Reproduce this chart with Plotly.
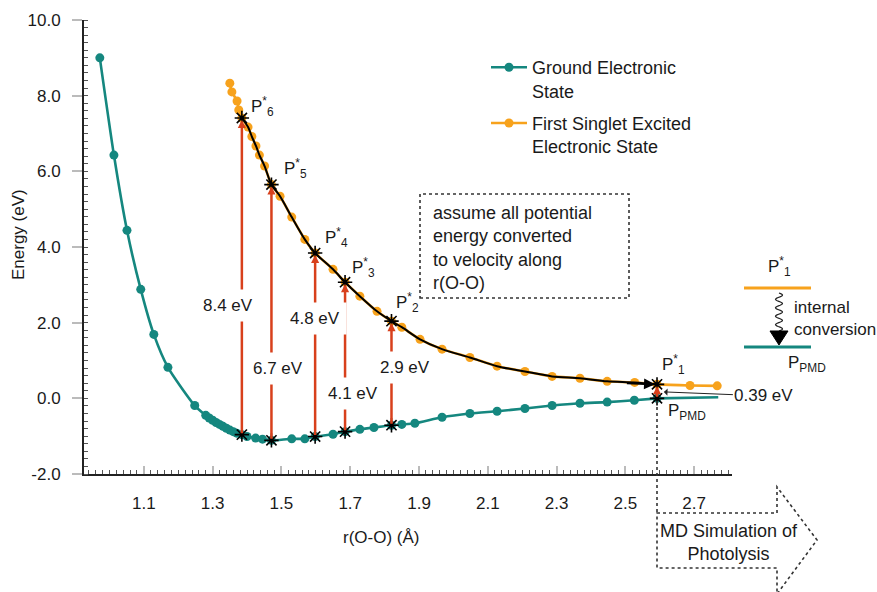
import plotly.graph_objects as go
import numpy as np

# ---------------- data ----------------
ground_r = [0.972, 1.013, 1.051, 1.091, 1.129, 1.170, 1.248, 1.280, 1.290, 1.300, 1.310,
            1.320, 1.330, 1.340, 1.350, 1.360, 1.370, 1.385, 1.400, 1.425, 1.445, 1.471,
            1.530, 1.568, 1.598, 1.650, 1.685, 1.728, 1.769, 1.820, 1.850, 1.888, 1.967,
            2.048, 2.127, 2.208, 2.287, 2.368, 2.447, 2.526, 2.592, 2.770]
ground_e = [9.00, 6.43, 4.44, 2.88, 1.69, 0.82, -0.19, -0.45, -0.52, -0.58, -0.64,
            -0.69, -0.74, -0.79, -0.84, -0.88, -0.92, -0.96, -1.01, -1.05, -1.08, -1.11,
            -1.07, -1.07, -1.01, -0.95, -0.88, -0.82, -0.77, -0.71, -0.69, -0.66, -0.50,
            -0.40, -0.34, -0.27, -0.19, -0.13, -0.10, -0.05, 0.00, 0.03]

excited_r = [1.350, 1.356, 1.371, 1.376, 1.385, 1.403, 1.414, 1.426, 1.436, 1.451, 1.471,
             1.496, 1.530, 1.568, 1.598, 1.650, 1.685, 1.728, 1.778, 1.820, 1.850, 1.903,
             1.967, 2.048, 2.127, 2.208, 2.287, 2.368, 2.447, 2.527, 2.592, 2.688, 2.767]
excited_e = [8.33, 8.10, 7.86, 7.62, 7.41, 7.17, 6.92, 6.67, 6.43, 6.14, 5.65,
             5.34, 4.79, 4.20, 3.84, 3.41, 3.07, 2.70, 2.30, 2.04, 1.88, 1.56,
             1.30, 1.08, 0.85, 0.71, 0.58, 0.53, 0.45, 0.42, 0.37, 0.34, 0.33]

# excitation points P*6 ... P*1
point_names = ["P<sup>*</sup><sub>6</sub>", "P<sup>*</sup><sub>5</sub>", "P<sup>*</sup><sub>4</sub>",
               "P<sup>*</sup><sub>3</sub>", "P<sup>*</sup><sub>2</sub>", "P<sup>*</sup><sub>1</sub>"]
point_r = [1.385, 1.471, 1.598, 1.685, 1.820, 2.592]
point_ground = [-0.96, -1.11, -1.01, -0.88, -0.71, 0.00]
point_excited = [7.41, 5.65, 3.84, 3.07, 2.04, 0.37]
gap_labels = ["8.4 eV", "6.7 eV", "4.8 eV", "4.1 eV", "2.9 eV", "0.39 eV"]

x_ticks = [1.1, 1.3, 1.5, 1.7, 1.9, 2.1, 2.3, 2.5, 2.7]
y_ticks = [-2.0, 0.0, 2.0, 4.0, 6.0, 8.0, 10.0]

# right-side schematic (diagram coordinates, beyond the axis range)
schem_r = 2.947
schem_excited = 2.94
schem_ground = 1.38

# ---------------- styles ----------------
TEAL = "#15877f"
ORANGE = "#f7a21c"
RED = "#d8401c"
FONT = "Liberation Sans, Arial, sans-serif"
TXT = "#1a1a1a"
FS = 17
FS2 = 18

W, H = 877, 592
L, R, T, B = 84, 145, 20, 118
PW, PH = W - L - R, H - T - B


def px(x):
    return (x - L) / PW


def py(y):
    return (H - B - y) / PH


def text_ann(xp, yp, text, xanchor="center", size=FS, **kw):
    d = dict(x=px(xp), y=py(yp), xref="paper", yref="paper", text=text,
             showarrow=False, xanchor=xanchor, yanchor="middle",
             font=dict(size=size, color=TXT, family=FONT))
    d.update(kw)
    return d


fig = go.Figure()

# ground state
fig.add_trace(go.Scatter(
    x=ground_r[:-1], y=ground_e[:-1], mode="lines+markers",
    name="Ground Electronic<br>State", legendgroup="ground",
    line=dict(color=TEAL, width=2.6, shape="spline", smoothing=0.6),
    marker=dict(color=TEAL, size=9), cliponaxis=False))
fig.add_trace(go.Scatter(
    x=ground_r[-2:], y=ground_e[-2:], mode="lines", showlegend=False,
    legendgroup="ground", line=dict(color=TEAL, width=2.6), hoverinfo="skip"))

# excited state
fig.add_trace(go.Scatter(
    x=excited_r, y=excited_e, mode="lines+markers",
    name="First Singlet Excited<br>Electronic State", legendgroup="excited",
    line=dict(color=ORANGE, width=2.6, shape="spline", smoothing=0.6),
    marker=dict(color=ORANGE, size=9), cliponaxis=False))

# black trajectory curve P*6 -> P*1
sel = [i for i, r in enumerate(excited_r) if point_r[0] <= r <= point_r[-1]]
fig.add_trace(go.Scatter(
    x=[excited_r[i] for i in sel], y=[excited_e[i] for i in sel], mode="lines",
    showlegend=False, legendgroup="excited",
    line=dict(color="black", width=2, shape="spline", smoothing=0.8),
    hoverinfo="skip"))

# stars
fig.add_trace(go.Scatter(
    x=point_r + point_r + [schem_r, schem_r],
    y=point_ground + point_excited + [schem_excited, schem_ground],
    mode="markers", showlegend=False, legendgroup="excited", cliponaxis=False,
    marker=dict(symbol="asterisk-open", size=12, color="black",
                line=dict(width=1.6, color="black")),
    hoverinfo="skip"))

ann = []
# red excitation arrows
for r, g, e in zip(point_r, point_ground, point_excited):
    ann.append(dict(x=r, y=e - 0.05, ax=r, ay=g, xref="x", yref="y", axref="x", ayref="y",
                    showarrow=True, arrowhead=2, arrowsize=0.65, arrowwidth=2.5,
                    arrowcolor=RED, text="", standoff=0))

# black arrowhead on trajectory at P*1
ann.append(dict(x=point_r[-1], y=point_excited[-1], ax=2.50, ay=0.40, xref="x", yref="y",
                axref="x", ayref="y", showarrow=True, arrowhead=2, arrowsize=1.1,
                arrowwidth=2, arrowcolor="black", text="", standoff=2))

# gap labels with white background
gap_pos = [(228, 305), (278, 368), (315, 318), (353, 393), (405, 367)]
for lab, (xp, yp) in zip(gap_labels[:5], gap_pos):
    ann.append(text_ann(xp, yp, lab, bgcolor="white", borderpad=6))

# 0.39 eV label with thin arrow
ann.append(dict(x=point_r[-1] + 0.02, y=0.17, xref="x", yref="y", text=gap_labels[5],
                showarrow=True, ax=100, ay=4, arrowhead=1, arrowsize=1.2, arrowwidth=1,
                arrowcolor="#222", font=dict(size=FS, color=TXT, family=FONT)))

# point labels
shifts = [(7, 11), (11, 16), (8, 16), (5, 15), (3, 19), (3, 20)]
for name, r, e, (dx, dy) in zip(point_names, point_r, point_excited, shifts):
    ann.append(dict(x=r, y=e, xref="x", yref="y", text=name, showarrow=False,
                    xanchor="left", yanchor="middle", xshift=dx, yshift=dy,
                    font=dict(size=FS, color=TXT, family=FONT)))
ann.append(dict(x=point_r[-1], y=point_ground[-1], xref="x", yref="y",
                text="P<sub>PMD</sub>", showarrow=False, xanchor="left", yanchor="middle",
                xshift=9, yshift=-14, font=dict(size=FS, color=TXT, family=FONT)))

# axis titles
ann.append(text_ann(18, 235, "Energy (eV)", textangle=-90))
ann.append(text_ann(381, 537, "r(O-O) (Å)"))

# dotted box text
ann.append(text_ann(431, 248, "assume all potential<br>energy converted<br>to velocity along<br>r(O-O)",
                    xanchor="left", size=FS2, align="left"))

# MD arrow text
ann.append(text_ann(729, 542, "MD Simulation of<br>Photolysis", size=FS2, align="center"))

# schematic text
ann.append(text_ann(779, 266, "P<sup>*</sup><sub>1</sub>"))
ann.append(text_ann(792, 318, "internal<br>conversion", xanchor="left", align="left"))
ann.append(text_ann(786, 364, "P<sub>PMD</sub>", xanchor="left"))

shapes = []
dot = dict(color="#333", width=1.6, dash="dot")
# dotted text box
shapes.append(dict(type="rect", xref="paper", yref="paper", x0=px(420), x1=px(629),
                   y0=py(298), y1=py(194), line=dot))
# vertical dotted line from P_PMD and MD arrow outline
shapes.append(dict(type="line", xref="paper", yref="paper", x0=px(657), x1=px(657),
                   y0=py(401), y1=py(513), line=dot))
arrow_pts = [(657, 513), (777, 513), (777, 487), (817, 540), (777, 594), (777, 568),
             (657, 568)]
path = "M " + " L ".join(f"{px(a):.5f},{py(b):.5f}" for a, b in arrow_pts) + " Z"
shapes.append(dict(type="path", xref="paper", yref="paper", path=path, line=dot))

# schematic levels
shapes.append(dict(type="line", xref="paper", yref="paper", x0=px(744), x1=px(811),
                   y0=py(288), y1=py(288), line=dict(color=ORANGE, width=3)))
shapes.append(dict(type="line", xref="paper", yref="paper", x0=px(744), x1=px(811),
                   y0=py(347), y1=py(347), line=dict(color=TEAL, width=3)))
# wavy line
tt = np.linspace(0, 1, 60)
wy = 293 + tt * 38
wx = 779 + 3.5 * np.sin(tt * 2 * np.pi * 4.5)
wpath = "M " + " L ".join(f"{px(a):.5f},{py(b):.5f}" for a, b in zip(wx, wy))
shapes.append(dict(type="path", xref="paper", yref="paper", path=wpath,
                   line=dict(color="#222", width=1.2)))
tri = [(770, 331), (788, 331), (779, 345)]
tpath = "M " + " L ".join(f"{px(a):.5f},{py(b):.5f}" for a, b in tri) + " Z"
shapes.append(dict(type="path", xref="paper", yref="paper", path=tpath,
                   fillcolor="black", line=dict(color="black", width=1)))

fig.update_layout(
    width=W, height=H, margin=dict(l=L, r=R, t=T, b=B, autoexpand=False),
    paper_bgcolor="white", plot_bgcolor="white",
    font=dict(family=FONT, size=FS, color=TXT),
    showlegend=True,
    legend=dict(x=px(486), y=py(49), xanchor="left", yanchor="top", valign="top",
                bgcolor="rgba(0,0,0,0)", font=dict(size=FS2, family=FONT, color=TXT),
                tracegroupgap=6, itemwidth=36),
    annotations=ann, shapes=shapes,
    xaxis=dict(range=[0.926, 2.81], tickmode="array", tickvals=x_ticks,
               ticktext=[f"{v:.1f}" for v in x_ticks], automargin=False,
               ticks="inside", ticklen=8, tickwidth=1.5, tickcolor="#bbb",
               showline=True, linecolor="#222", linewidth=2, showgrid=False,
               zeroline=False, tickfont=dict(size=FS, family=FONT, color=TXT),
               ticklabelstandoff=13,
               minor=dict(tick0=1.1, dtick=0.02, ticks="inside", ticklen=4,
                          tickcolor="#555", tickwidth=1, showgrid=False)),
    yaxis=dict(range=[-2, 10], tickmode="array", tickvals=y_ticks,
               ticktext=[f"{v:.1f}" for v in y_ticks], automargin=False,
               ticks="outside", ticklen=10, tickwidth=1.5, tickcolor="#bbb",
               showline=True, linecolor="#222", linewidth=2, showgrid=False,
               zeroline=False, tickfont=dict(size=FS, family=FONT, color=TXT),
               ticklabelstandoff=8,
               minor=dict(tick0=0, dtick=0.2, ticks="inside", ticklen=4,
                          tickcolor="#555", tickwidth=1, showgrid=False)),
)

fig.write_html("out.html", config={"displayModeBar": False},
               post_script="document.body.style.margin='0';")
